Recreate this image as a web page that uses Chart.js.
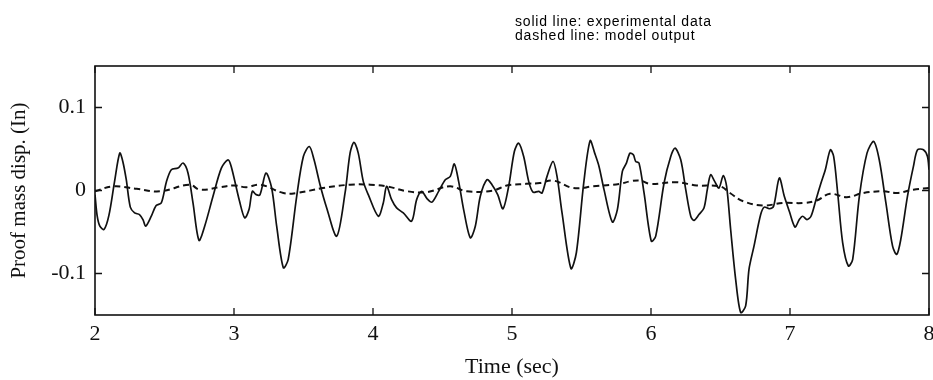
<!DOCTYPE html>
<html>
<head>
<meta charset="utf-8">
<title>Proof mass displacement</title>
<script src="https://cdn.jsdelivr.net/npm/chart.js@4.4.1/dist/chart.umd.min.js"></script>
<style>
  html, body { margin: 0; padding: 0; background: #fff; }
  #wrap { width: 933px; height: 380px; position: relative; overflow: hidden; }
</style>
</head>
<body>
<div id="wrap"><canvas id="c" width="933" height="380"></canvas></div>
<script>
// Measured proof-mass displacement (solid line)
const expTime = [
  2.000, 2.015, 2.035, 2.065, 2.100, 2.140, 2.178, 2.200, 2.225, 2.254,
  2.285, 2.320, 2.345, 2.365, 2.405, 2.440, 2.477, 2.513, 2.549, 2.597,
  2.633, 2.669, 2.705, 2.748, 2.789, 2.849, 2.909, 2.957, 2.980, 3.040,
  3.077, 3.108, 3.132, 3.160, 3.187, 3.230, 3.271, 3.307, 3.355, 3.390,
  3.451, 3.499, 3.542, 3.576, 3.619, 3.667, 3.739, 3.799, 3.835, 3.863,
  3.894, 3.930, 3.966, 4.038, 4.074, 4.098, 4.134, 4.170, 4.218, 4.278,
  4.314, 4.350, 4.390, 4.424, 4.472, 4.520, 4.556, 4.585, 4.616, 4.652,
  4.700, 4.736, 4.772, 4.820, 4.856, 4.897, 4.935, 4.976, 5.017, 5.048,
  5.084, 5.120, 5.151, 5.192, 5.216, 5.252, 5.295, 5.324, 5.360, 5.424,
  5.463, 5.516, 5.562, 5.595, 5.626, 5.662, 5.722, 5.758, 5.794, 5.823,
  5.849, 5.873, 5.890, 5.914, 5.950, 6.002, 6.034, 6.094, 6.142, 6.173,
  6.214, 6.250, 6.286, 6.309, 6.345, 6.381, 6.405, 6.429, 6.458, 6.489,
  6.520, 6.544, 6.573, 6.609, 6.645, 6.681, 6.705, 6.741, 6.789, 6.815,
  6.851, 6.882, 6.923, 6.959, 6.995, 7.036, 7.067, 7.091, 7.122, 7.151,
  7.187, 7.223, 7.254, 7.290, 7.314, 7.343, 7.379, 7.420, 7.451, 7.499,
  7.554, 7.602, 7.642, 7.690, 7.738, 7.768, 7.797, 7.845, 7.888, 7.917,
  7.960, 7.989, 8.000
];
const expDisp = [
  -0.005, -0.030, -0.043, -0.047, -0.030, 0.010, 0.045, 0.035, 0.013, -0.020,
  -0.027, -0.029, -0.035, -0.043, -0.031, -0.018, -0.015, 0.010, 0.025, 0.027,
  0.033, 0.021, -0.015, -0.060, -0.043, -0.007, 0.027, 0.037, 0.029, -0.013,
  -0.033, -0.023, -0.001, -0.005, -0.005, 0.021, 0.003, -0.043, -0.093, -0.083,
  -0.007, 0.041, 0.053, 0.037, 0.007, -0.021, -0.055, -0.003, 0.045, 0.058,
  0.045, 0.011, -0.005, -0.031, -0.015, 0.005, -0.011, -0.021, -0.027, -0.037,
  -0.011, -0.001, -0.010, -0.014, -0.001, 0.013, 0.017, 0.032, 0.011, -0.023,
  -0.057, -0.043, -0.007, 0.013, 0.007, -0.005, -0.022, 0.005, 0.047, 0.057,
  0.041, 0.011, -0.002, -0.001, -0.003, 0.017, 0.035, 0.017, -0.027, -0.094,
  -0.075, 0.009, 0.060, 0.045, 0.029, 0.001, -0.038, -0.023, 0.023, 0.033,
  0.045, 0.043, 0.035, 0.033, -0.003, -0.061, -0.055, 0.009, 0.041, 0.051,
  0.037, 0.001, -0.031, -0.036, -0.029, -0.021, 0.001, 0.019, 0.011, 0.003,
  0.018, 0.005, -0.047, -0.107, -0.147, -0.139, -0.095, -0.067, -0.029, -0.020,
  -0.022, -0.019, 0.015, -0.007, -0.025, -0.044, -0.035, -0.031, -0.035, -0.031,
  -0.011, 0.009, 0.025, 0.049, 0.041, -0.003, -0.063, -0.091, -0.083, -0.007,
  0.045, 0.059, 0.037, -0.015, -0.067, -0.077, -0.059, -0.007, 0.029, 0.049,
  0.049, 0.041, 0.025
];

// Model prediction (dashed line)
const modelTime = [
  2.000, 2.130, 2.300, 2.470, 2.680, 2.755, 2.900, 3.000, 3.090, 3.190,
  3.355, 3.450, 3.640, 3.835, 3.980, 4.100, 4.250, 4.386, 4.554, 4.674,
  4.864, 4.962, 5.100, 5.200, 5.297, 5.440, 5.585, 5.777, 5.849, 5.921,
  5.993, 6.185, 6.329, 6.496, 6.568, 6.664, 6.808, 6.952, 7.096, 7.192,
  7.288, 7.408, 7.527, 7.671, 7.768, 7.887, 8.000
];
const modelDisp = [
  -0.001, 0.005, 0.002, -0.001, 0.007, 0.001, 0.004, 0.006, 0.004, 0.007,
  -0.003, -0.003, 0.003, 0.007, 0.007, 0.005, -0.001, -0.002, 0.005, -0.001,
  0.000, 0.006, 0.008, 0.009, 0.012, 0.003, 0.005, 0.008, 0.011, 0.012,
  0.008, 0.010, 0.006, 0.005, -0.003, -0.013, -0.018, -0.015, -0.015, -0.012,
  -0.004, -0.008, -0.003, -0.001, -0.003, 0.001, 0.003
];

// Axis ticks and labels
const xTickValues = [2, 3, 4, 5, 6, 7, 8];
const yTickValues = [-0.1, 0, 0.1];
const noteLines = ['solid line: experimental data', 'dashed line: model output'];

const serif = '"Liberation Serif", "Times New Roman", Times, serif';
const sans = '"Liberation Sans", Arial, Helvetica, sans-serif';

const toPoints = (xs, ys) => xs.map((x, i) => ({ x: x, y: ys[i] }));

// Box around the plot area with inward tick marks on all four sides
const frameTicks = {
  id: 'frameTicks',
  afterDatasetsDraw(chart) {
    const { ctx, chartArea: a, scales } = chart;
    const len = 7;
    ctx.save();
    ctx.strokeStyle = '#111';
    ctx.lineWidth = 1.6;
    ctx.strokeRect(a.left, a.top, a.right - a.left, a.bottom - a.top);
    ctx.lineWidth = 1.3;
    ctx.beginPath();
    xTickValues.forEach(v => {
      const px = scales.x.getPixelForValue(v);
      ctx.moveTo(px, a.bottom); ctx.lineTo(px, a.bottom - len);
      ctx.moveTo(px, a.top); ctx.lineTo(px, a.top + len);
    });
    yTickValues.forEach(v => {
      const py = scales.y.getPixelForValue(v);
      ctx.moveTo(a.left, py); ctx.lineTo(a.left + len, py);
      ctx.moveTo(a.right, py); ctx.lineTo(a.right - len, py);
    });
    ctx.stroke();
    ctx.restore();
  }
};

// Two-line note above the plot explaining the line styles
const seriesNote = {
  id: 'seriesNote',
  afterDraw(chart) {
    const { ctx } = chart;
    ctx.save();
    ctx.fillStyle = '#000';
    ctx.font = '14px ' + sans;
    ctx.letterSpacing = '0.8px';
    ctx.textAlign = 'left';
    ctx.textBaseline = 'alphabetic';
    ctx.fillText(noteLines[0], 515, 26);
    ctx.fillText(noteLines[1], 515, 40);
    ctx.restore();
  }
};

new Chart(document.getElementById('c'), {
  type: 'line',
  data: {
    datasets: [
      {
        label: 'experimental data',
        data: toPoints(expTime, expDisp),
        borderColor: '#111',
        borderWidth: 1.7,
        pointRadius: 0,
        tension: 0.3,
        fill: false
      },
      {
        label: 'model output',
        data: toPoints(modelTime, modelDisp),
        borderColor: '#111',
        borderWidth: 2,
        borderDash: [6, 4],
        pointRadius: 0,
        tension: 0.4,
        fill: false
      }
    ]
  },
  options: {
    responsive: false,
    animation: false,
    events: [],
    layout: { padding: { top: 66, right: 4, bottom: 0, left: 0 } },
    plugins: {
      legend: { display: false },
      tooltip: { enabled: false },
      title: { display: false }
    },
    scales: {
      x: {
        type: 'linear',
        min: 2,
        max: 8,
        grid: { display: false, drawTicks: false },
        border: { display: false },
        afterBuildTicks: s => { s.ticks = xTickValues.map(v => ({ value: v })); },
        afterFit: s => { s.height = 65; s.paddingLeft = 0; s.paddingRight = 0; },
        ticks: {
          color: '#111',
          padding: 6,
          maxRotation: 0,
          font: { family: serif, size: 22 },
          callback: v => String(v)
        },
        title: {
          display: true,
          text: 'Time (sec)',
          color: '#111',
          font: { family: serif, size: 22, lineHeight: 1.2 },
          padding: { top: 0, bottom: 0 }
        }
      },
      y: {
        type: 'linear',
        min: -0.15,
        max: 0.15,
        grid: { display: false, drawTicks: false },
        border: { display: false },
        afterBuildTicks: s => { s.ticks = yTickValues.map(v => ({ value: v })); },
        afterFit: s => { s.width = 95; s.paddingTop = 0; s.paddingBottom = 0; },
        ticks: {
          color: '#111',
          padding: 9,
          font: { family: serif, size: 22 },
          callback: v => (v === 0 ? '0' : v.toFixed(1))
        },
        title: {
          display: true,
          text: 'Proof mass disp. (In)',
          color: '#111',
          font: { family: serif, size: 21, lineHeight: 1.2 },
          padding: { top: 7, bottom: 0 }
        }
      }
    }
  },
  plugins: [frameTicks, seriesNote]
});
</script>
</body>
</html>
